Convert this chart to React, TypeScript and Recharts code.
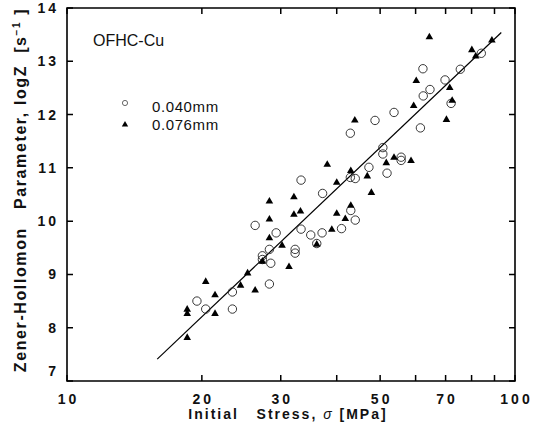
import { ScatterChart, Scatter, XAxis, YAxis, Legend, ReferenceArea } from 'recharts';

const FONT = '"Liberation Sans", Arial, Helvetica, sans-serif';

const stressTicks = [10, 20, 30, 40, 50, 60, 70, 80, 90, 100];
const stressLabels = [10, 20, 30, 50, 70, 100];
const logZTicks = [7, 8, 9, 10, 11, 12, 13, 14];

// 0.040mm (open circles)
const stress040 = [19.5, 20.4, 23.4, 23.4, 26.3, 27.3, 27.3, 28.3, 28.5, 28.3, 29.3, 32.3, 32.3, 33.3, 33.3, 35.0, 36.1, 37.1, 37.2, 41.0, 42.9, 42.9, 43.0, 44.0, 44.0, 47.2, 48.7, 50.7, 50.7, 51.8, 53.7, 55.7, 55.7, 61.5, 62.3, 62.4, 64.6, 69.8, 72.0, 75.5, 84.1];
const logZ040 = [8.50, 8.35, 8.35, 8.67, 9.92, 9.35, 9.28, 9.47, 9.21, 8.82, 9.78, 9.47, 9.40, 10.77, 9.85, 9.74, 9.58, 9.78, 10.52, 9.86, 11.65, 10.82, 10.20, 10.80, 10.02, 11.01, 11.89, 11.38, 11.26, 10.90, 12.04, 11.20, 11.14, 11.75, 12.86, 12.35, 12.47, 12.65, 12.21, 12.85, 13.15];

// 0.076mm (filled triangles)
const stress076 = [18.55, 18.55, 18.55, 20.4, 21.4, 21.4, 24.4, 25.3, 26.3, 27.3, 28.3, 28.3, 28.3, 30.2, 31.3, 32.1, 32.1, 33.2, 36.1, 38.1, 39.0, 40.0, 40.0, 41.8, 43.0, 43.0, 43.9, 46.8, 47.8, 51.6, 53.7, 58.6, 59.4, 60.2, 64.4, 70.3, 71.5, 72.4, 80.1, 81.7, 88.8];
const logZ076 = [8.35, 8.27, 7.82, 8.87, 8.62, 8.27, 8.80, 9.03, 8.71, 9.25, 10.38, 10.04, 9.69, 9.55, 9.15, 10.46, 10.13, 10.19, 9.57, 11.07, 9.85, 10.73, 10.15, 10.05, 10.95, 10.30, 11.90, 10.85, 10.54, 11.10, 11.20, 11.14, 12.17, 12.64, 13.46, 11.91, 12.51, 12.27, 13.22, 13.10, 13.40];

// fitted line end points
const fitStress = [15.9, 93.2];
const fitLogZ = [7.41, 13.54];

const data040 = stress040.map((x, i) => ({ x, y: logZ040[i] }));
const data076 = stress076.map((x, i) => ({ x, y: logZ076[i] }));
const fitData = fitStress.map((x, i) => ({ x, y: fitLogZ[i] }));

const W = 546;
const H = 429;
const M = { top: 8, right: 31, bottom: 0, left: 0 };
const X_AXIS_H = 48;
const Y_AXIS_W = 67;
const PLOT_W = W - M.left - M.right - Y_AXIS_W;
const PLOT_H = H - M.top - M.bottom - X_AXIS_H;

const OpenCircle = (p: any) => (
  <circle cx={p.cx} cy={p.cy} r={4.2} fill="none" stroke="#222" strokeWidth={0.9} />
);

const FilledTriangle = (p: any) => {
  const { cx, cy } = p;
  return <path d={`M${cx},${cy - 4}L${cx + 3.8},${cy + 2.6}L${cx - 3.8},${cy + 2.6}Z`} fill="#000" />;
};

const NoDot = () => <g />;

// inward tick on the bottom edge plus the matching one on the top edge
const BottomTick = (props: any) => {
  const { x, y, payload } = props;
  const v = payload.value;
  return (
    <g>
      <path d={`M${x},${y}V${y - 6}M${x},${y - PLOT_H}V${y - PLOT_H + 6}`} stroke="#000" strokeWidth={1.5} fill="none" />
      {stressLabels.includes(v) && (
        <text x={x} y={y + 23} dx={1.5} textAnchor="middle" fontFamily={FONT} fontWeight="bold" fontSize={14} letterSpacing={3} fill="#111">
          {v}
        </text>
      )}
    </g>
  );
};

// inward tick on the left edge plus the matching one on the right edge
const LeftTick = (props: any) => {
  const { x, y, payload } = props;
  const v = payload.value;
  return (
    <g>
      <path d={`M${x},${y}H${x + 6}M${x + PLOT_W},${y}H${x + PLOT_W - 6}`} stroke="#000" strokeWidth={1.5} fill="none" />
      <text x={x - 8} y={y + 5} dy={v === 7 ? -10 : 0} textAnchor="end" fontFamily={FONT} fontWeight="bold" fontSize={14} letterSpacing={3} fill="#111">
        {v}
      </text>
    </g>
  );
};

const XTitle = () => (
  <text x={288} y={419} textAnchor="middle" fontFamily={FONT} fontWeight="bold" fontSize={14} letterSpacing={2} fill="#111" style={{ whiteSpace: 'pre' }}>
    {'Initial   Stress, '}
    <tspan fontStyle="italic" fontWeight="normal">σ</tspan>
    {' [MPa]'}
  </text>
);

const YTitle = () => (
  <text transform="translate(26,190) rotate(-90)" textAnchor="middle" fontFamily={FONT} fontWeight="bold" fontSize={16} letterSpacing={1.6} fill="#111" style={{ whiteSpace: 'pre' }}>
    {'Zener-Hollomon   Parameter, logZ  [s'}
    <tspan dy={-6} fontSize={10}>{'−1'}</tspan>
    <tspan dy={6}>{' ]'}</tspan>
  </text>
);

const LegendBox = (props: any) => (
  <div style={{ fontFamily: FONT, fontSize: 15, color: '#111' }}>
    {(props.payload || [])
      .filter((e: any) => e.value === '0.040mm' || e.value === '0.076mm')
      .map((e: any, i: number) => (
        <div key={e.value} style={{ display: 'flex', alignItems: 'center', height: 18 }}>
          <svg width={10} height={18}>
            {i === 0 ? (
              <circle cx={5} cy={6} r={2.6} fill="none" stroke="#444" strokeWidth={0.8} />
            ) : (
              <path d="M5,6L8.2,11.5L1.8,11.5Z" fill="#000" />
            )}
          </svg>
          <span style={{ marginLeft: 22, letterSpacing: 0.6 }}>{e.value}</span>
        </div>
      ))}
  </div>
);

export default function App() {
  return (
    <div style={{ position: 'absolute', left: 0, top: 0, width: W, height: H, background: '#fff' }}>
      <ScatterChart width={W} height={H} margin={M}>
        <XAxis
          dataKey="x"
          type="number"
          scale="log"
          domain={[10, 100]}
          ticks={stressTicks}
          interval={0}
          height={X_AXIS_H}
          tickSize={0}
          tickMargin={0}
          tickLine={false}
          tick={<BottomTick />}
          axisLine={false}
          label={<XTitle />}
        />
        <YAxis
          dataKey="y"
          type="number"
          domain={[7, 14]}
          ticks={logZTicks}
          interval={0}
          width={Y_AXIS_W}
          tickSize={0}
          tickMargin={0}
          tickLine={false}
          tick={<LeftTick />}
          axisLine={false}
          label={<YTitle />}
        />
        <ReferenceArea x1={10} x2={100} y1={7} y2={14} fill="none" stroke="#000" strokeWidth={1.6} ifOverflow="visible" />
        <ReferenceArea x1={10} x2={100} y1={7} y2={7} fill="none" stroke="#000" strokeWidth={2.2} ifOverflow="visible" />
        <Legend
          layout="vertical"
          align="center"
          verticalAlign="middle"
          content={<LegendBox />}
          wrapperStyle={{ position: 'absolute', left: 120, top: 97, width: 'auto', height: 'auto' }}
        />
        <Scatter
          name="fit"
          data={fitData}
          line={{ stroke: '#000', strokeWidth: 1.2 }}
          shape={<NoDot />}
          legendType="none"
          isAnimationActive={false}
        />
        <Scatter name="0.040mm" data={data040} shape={<OpenCircle />} isAnimationActive={false} />
        <Scatter name="0.076mm" data={data076} shape={<FilledTriangle />} isAnimationActive={false} />
      </ScatterChart>
      <div style={{ position: 'absolute', left: 93, top: 32, fontFamily: FONT, fontSize: 16, color: '#111' }}>
        OFHC-Cu
      </div>
    </div>
  );
}
